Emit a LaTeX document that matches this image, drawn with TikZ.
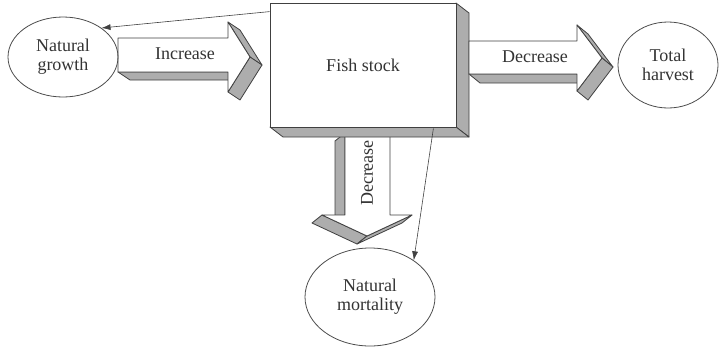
\documentclass[tikz,border=0pt]{standalone}
\usepackage{fontspec}
\setmainfont{Liberation Serif}
\usetikzlibrary{shapes.geometric,arrows.meta,calc}
\begin{document}
\begin{tikzpicture}[x=1pt,y=-1pt,
  face/.style={fill=black!32,draw=black!75,line width=0.8pt,line join=round},
  front/.style={fill=white,draw=black!75,line width=0.8pt,line join=round},
  oval/.style={ellipse,draw=black!70,line width=0.8pt,inner sep=0pt,align=center,
    text=black!80,font=\fontsize{18}{19}\selectfont},
  lbl/.style={text=black!80,font=\fontsize{18}{20}\selectfont,inner sep=0pt},
  link/.style={draw=black!75,line width=0.6pt,-{Latex[length=9pt,width=6pt]}}]
\useasboundingbox (0,0) rectangle (720,349);

% down arrow (Decrease), drawn first so the box covers its top
\draw[face] (345,133) -- (345,215) -- (335,223) -- (335,141) -- cycle;
\draw[face] (322,215) -- (367,236) -- (357,244) -- (312,223) -- cycle;
\draw[face] (367,236) -- (412,215) -- (402,223) -- (357,244) -- cycle;
\draw[front] (345,133) -- (390,133) -- (390,215) -- (412,215) -- (367,236) -- (322,215) -- (345,215) -- cycle;
\node[lbl,rotate=90] (dlabel) at (367,173) {Decrease};

% fish stock box
\draw[face] (456,3) -- (469,13) -- (469,137) -- (456,127) -- cycle;
\draw[face] (270,127) -- (456,127) -- (469,137) -- (283,137) -- cycle;
\node[front,lbl,draw=black!75,minimum width=186pt,minimum height=124pt] (fish) at (363,65) {Fish stock};

% increase arrow
\draw[face] (118,72) -- (228,72) -- (240,80) -- (130,80) -- cycle;
\draw[face] (228,22) -- (250,57) -- (262,65) -- (240,30) -- cycle;
\draw[face] (250,57) -- (228,92) -- (240,100) -- (262,65) -- cycle;
\draw[front] (118,38) -- (228,38) -- (228,22) -- (250,57) -- (228,92) -- (228,72) -- (118,72) -- cycle;
\node[lbl] (ilabel) at (185,54) {Increase};

% right arrow (Decrease)
\draw[face] (469,74) -- (577,74) -- (588,83) -- (480,83) -- cycle;
\draw[face] (577,25) -- (602,58) -- (613,67) -- (588,34) -- cycle;
\draw[face] (602,58) -- (577,91) -- (588,100) -- (613,67) -- cycle;
\draw[front] (469,41) -- (577,41) -- (577,25) -- (602,58) -- (577,91) -- (577,74) -- (469,74) -- cycle;
\node[lbl] (rlabel) at (535,57) {Decrease};

% ellipses
\node[oval,minimum width=110pt,minimum height=80pt] (growth) at (63,57) {Natural\\growth};
\node[oval,minimum width=100pt,minimum height=86pt] (harvest) at (668,65) {Total\\harvest};
\node[oval,minimum width=130pt,minimum height=98pt] (mortality) at (370,297) {Natural\\mortality};

% thin arrows
\coordinate (gstart) at ($(fish.north west)+(0,9)$);
\coordinate (mstart) at ($(fish.south east)+(-23,1)$);
\draw[link] (gstart) -- (growth.37);
\draw[link] (mstart) -- (mortality.40);
\end{tikzpicture}
\end{document}
